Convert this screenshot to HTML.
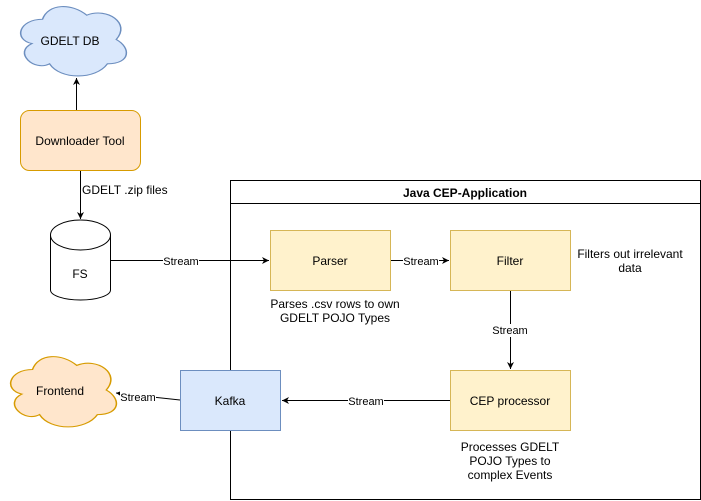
<!DOCTYPE html>
<html><head><style>body{margin:0;background:#fff}svg{display:block}text{font-family:"Liberation Sans",sans-serif;font-size:12px;fill:#000}</style></head><body>
<svg width="701" height="501" viewBox="0 0 701 501">
<defs>
<path id="cloud" d="M0.25,0.25 C0.05,0.25 0,0.5 0.16,0.55 C0,0.66 0.18,0.9 0.31,0.8 C0.4,1 0.7,1 0.8,0.8 C1,0.8 1,0.6 0.875,0.5 C1,0.3 0.8,0.1 0.625,0.2 C0.5,0.05 0.3,0.05 0.25,0.25 Z"/>
<marker id="a" markerWidth="8" markerHeight="8" refX="7" refY="4" orient="auto" markerUnits="userSpaceOnUse"><path d="M0,0.5 L7,4 L0,7.5 L2,4 Z" fill="#000"/></marker>
</defs>
<use href="#cloud" transform="translate(13,-1) scale(118,81)" fill="#dae8fc" stroke="#6c8ebf" stroke-width="0.013" />
<text x="70" y="45" text-anchor="middle">GDELT DB</text>
<use href="#cloud" transform="translate(3,349) scale(118,82)" fill="#ffe6cc" stroke="#d79b00" stroke-width="0.013" />
<text x="60" y="395" text-anchor="middle">Frontend</text>
<rect x="20.5" y="110.5" width="120" height="60" rx="9" fill="#ffe6cc" stroke="#d79b00"/>
<text x="80" y="145" text-anchor="middle">Downloader Tool</text>
<line x1="76.5" y1="110" x2="76.5" y2="78" stroke="#000" marker-end="url(#a)"/>
<line x1="80.5" y1="171" x2="80.5" y2="219" stroke="#000" marker-end="url(#a)"/>
<text x="82" y="194">GDELT .zip files</text>
<path d="M50.5,235 L50.5,290 A30,10 0 0 0 110.5,290 L110.5,235" fill="#fff" stroke="#000"/>
<ellipse cx="80.5" cy="235" rx="30" ry="15" fill="#fff" stroke="#000"/>
<text x="80" y="278" text-anchor="middle">FS</text>
<rect x="230.5" y="180.5" width="470" height="319" fill="#fff" stroke="#000"/>
<line x1="230.5" y1="203.5" x2="700.5" y2="203.5" stroke="#000"/>
<text x="465" y="197" text-anchor="middle" style="font-weight:bold">Java CEP-Application</text>
<rect x="270.5" y="230.5" width="120" height="60" fill="#fff2cc" stroke="#d6b656"/>
<text x="330" y="265" text-anchor="middle">Parser</text>
<rect x="450.5" y="230.5" width="120" height="60" fill="#fff2cc" stroke="#d6b656"/>
<text x="510" y="265" text-anchor="middle">Filter</text>
<rect x="450.5" y="370.5" width="120" height="60" fill="#fff2cc" stroke="#d6b656"/>
<text x="510" y="405" text-anchor="middle">CEP processor</text>
<rect x="180.5" y="370.5" width="100" height="60" fill="#dae8fc" stroke="#6c8ebf"/>
<text x="230" y="405" text-anchor="middle">Kafka</text>
<line x1="111" y1="260.5" x2="269" y2="260.5" stroke="#000" marker-end="url(#a)"/>
<rect x="163" y="254" width="36" height="13" fill="#fff"/><text x="181" y="265" text-anchor="middle" style="font-size:11px">Stream</text>
<line x1="391" y1="260.5" x2="449" y2="260.5" stroke="#000" marker-end="url(#a)"/>
<rect x="403" y="254" width="36" height="13" fill="#fff"/><text x="421" y="265" text-anchor="middle" style="font-size:11px">Stream</text>
<line x1="510.5" y1="291" x2="510.5" y2="369" stroke="#000" marker-end="url(#a)"/>
<rect x="492" y="324" width="36" height="13" fill="#fff"/><text x="510" y="334" text-anchor="middle" style="font-size:11px">Stream</text>
<line x1="450" y1="400.5" x2="282" y2="400.5" stroke="#000" marker-end="url(#a)"/>
<rect x="348" y="394" width="36" height="13" fill="#fff"/><text x="366" y="405" text-anchor="middle" style="font-size:11px">Stream</text>
<line x1="180" y1="400" x2="116" y2="393" stroke="#000" marker-end="url(#a)"/>
<rect x="120" y="390" width="36" height="12" fill="#fff"/><text x="138" y="401" text-anchor="middle" style="font-size:11px">Stream</text>
<text x="335" y="308" text-anchor="middle">Parses .csv rows to own</text>
<text x="335" y="322" text-anchor="middle">GDELT POJO Types</text>
<text x="630" y="258" text-anchor="middle">Filters out irrelevant</text>
<text x="630" y="272" text-anchor="middle">data</text>
<text x="510" y="451" text-anchor="middle">Processes GDELT</text>
<text x="510" y="465" text-anchor="middle">POJO Types to</text>
<text x="510" y="479" text-anchor="middle">complex Events</text>
</svg>
</body></html>
